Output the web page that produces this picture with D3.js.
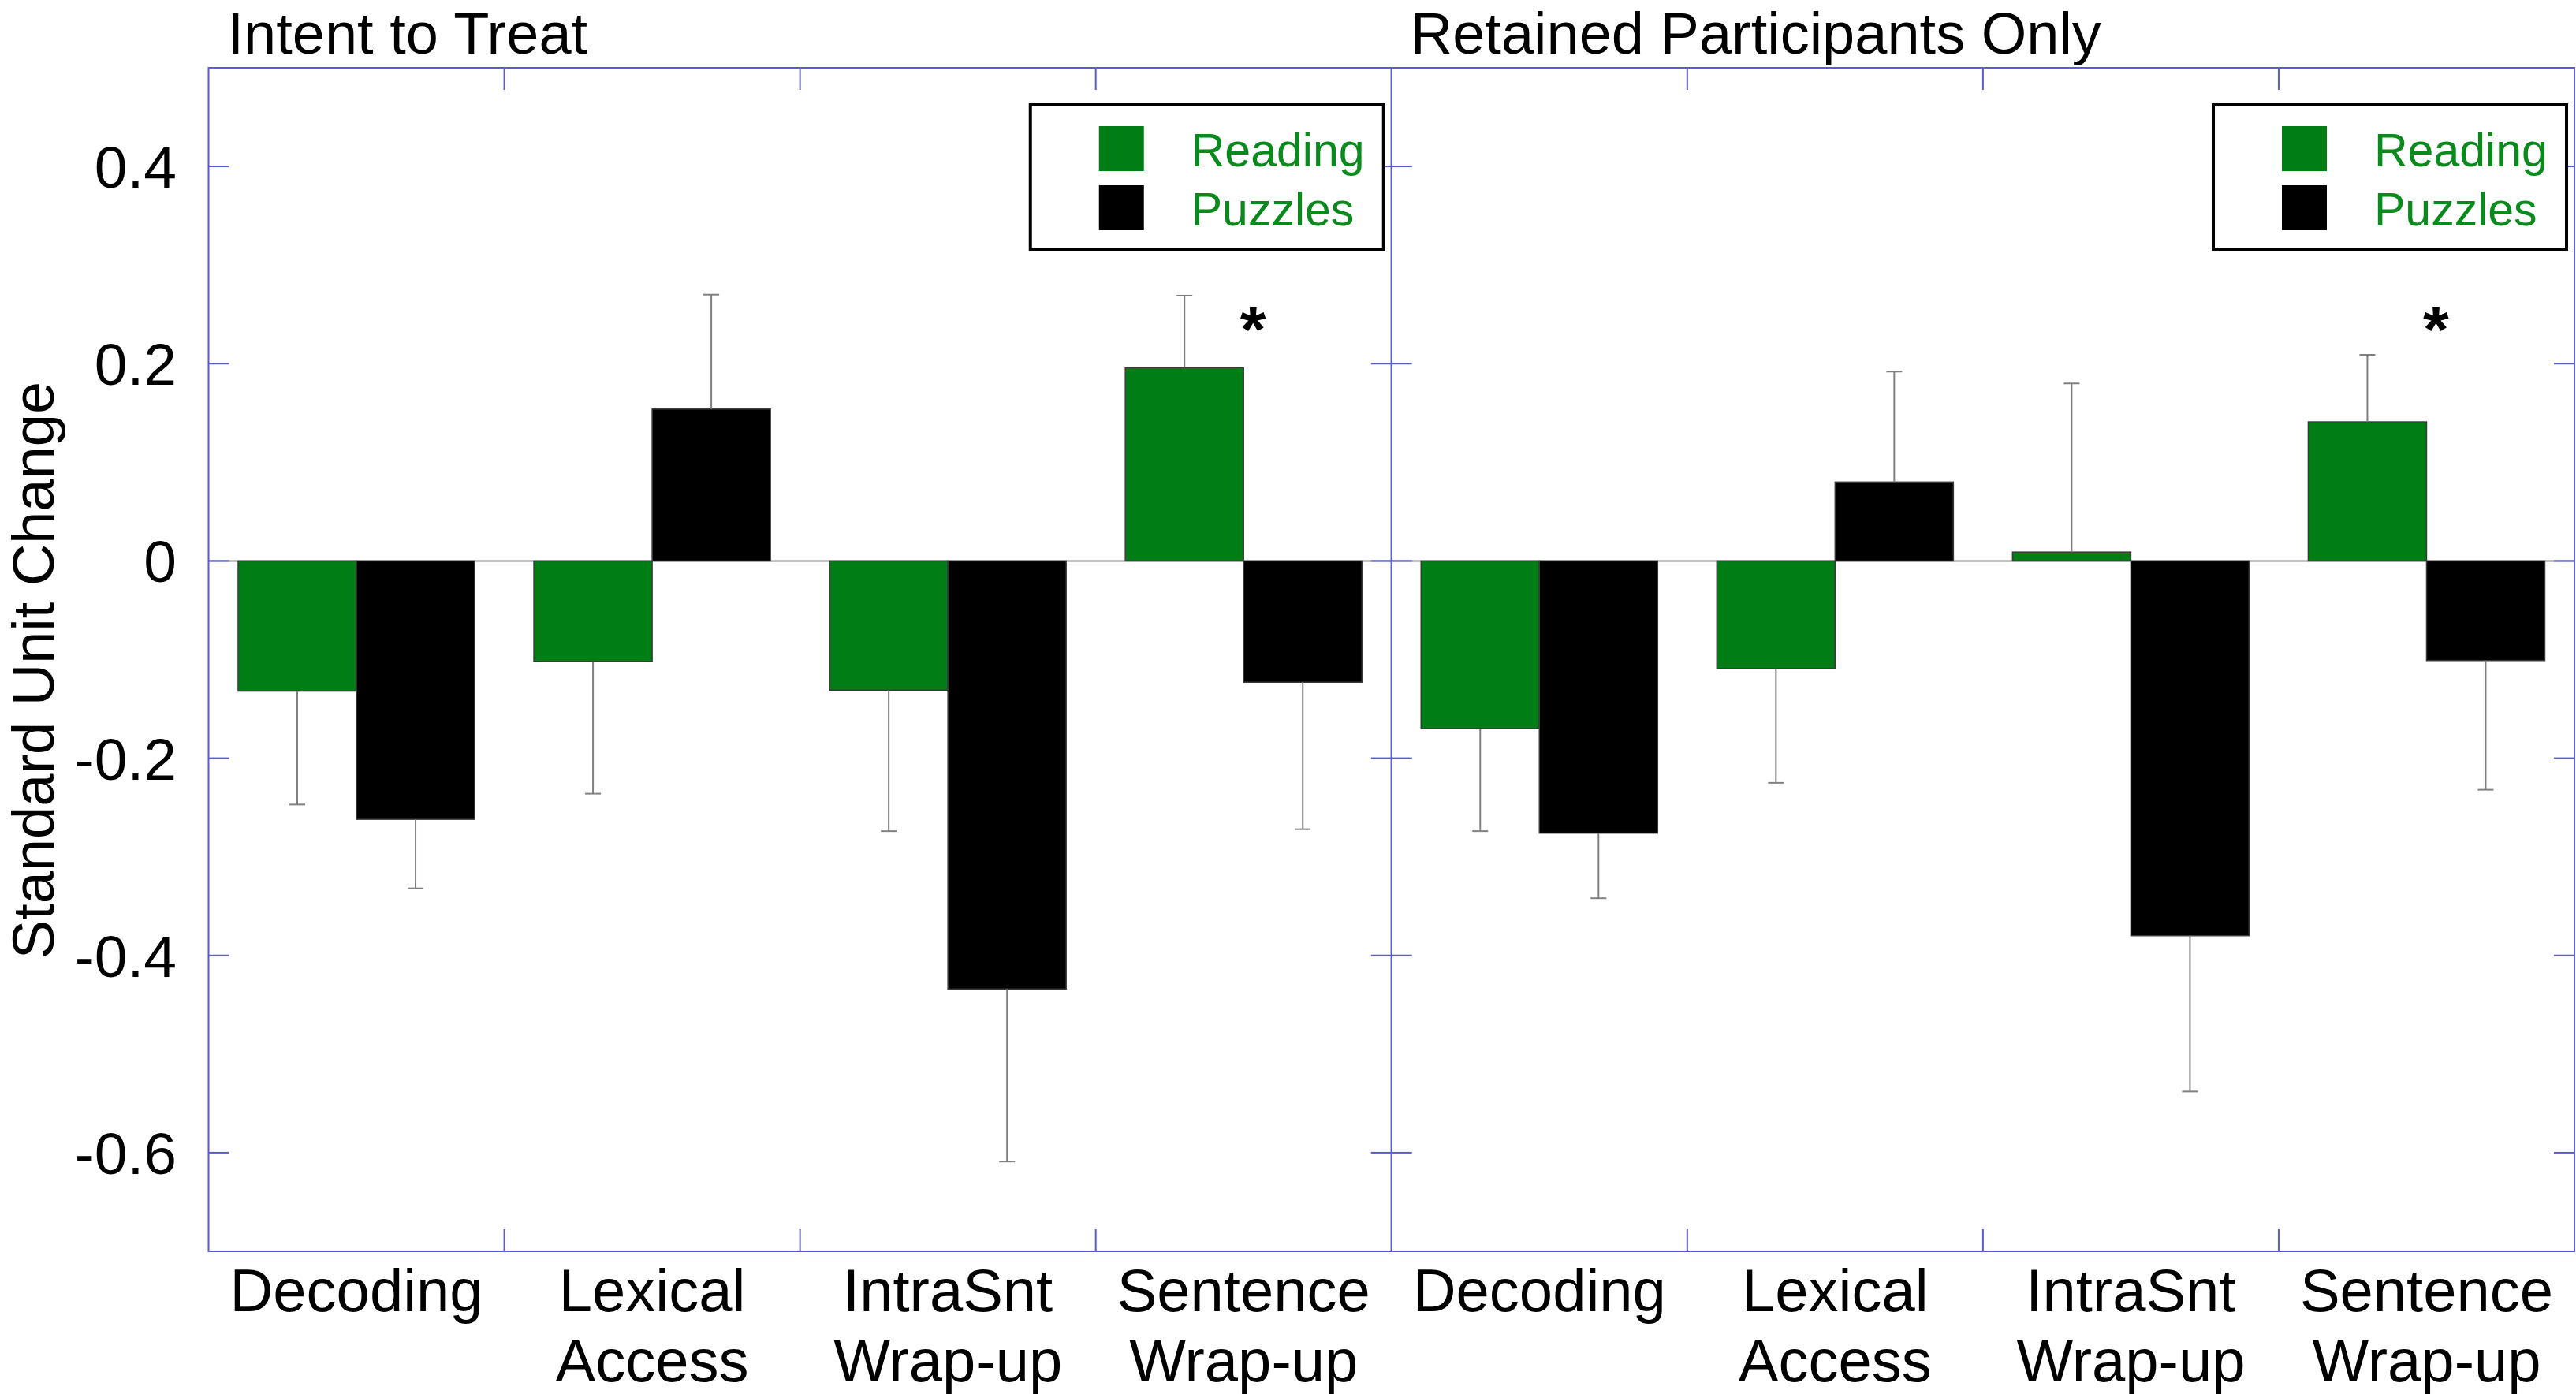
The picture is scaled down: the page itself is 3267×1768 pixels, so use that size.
<!DOCTYPE html>
<html><head><meta charset="utf-8">
<script src="https://cdn.jsdelivr.net/npm/d3@7"></script>
<style>body{margin:0;background:#fff}</style>
</head><body>
<svg id="chart" width="3267" height="1768"></svg>
<script>
// ---- data ----
const panelTitles = ["Intent to Treat", "Retained Participants Only"];
const categories = ["Decoding", "Lexical Access", "IntraSnt Wrap-up", "Sentence Wrap-up"];
const categoryLines = [["Decoding"], ["Lexical", "Access"], ["IntraSnt", "Wrap-up"], ["Sentence", "Wrap-up"]];
const series = ["Reading", "Puzzles"];
const ittReading     = [-0.132, -0.102, -0.131, 0.196];
const ittReadingErr  = [0.115, 0.134, 0.143, 0.073];
const ittPuzzles     = [-0.262, 0.154, -0.434, -0.123];
const ittPuzzlesErr  = [0.070, 0.116, 0.175, 0.149];
const retReading     = [-0.170, -0.109, 0.009, 0.141];
const retReadingErr  = [0.104, 0.116, 0.171, 0.068];
const retPuzzles     = [-0.276, 0.080, -0.380, -0.101];
const retPuzzlesErr  = [0.066, 0.112, 0.158, 0.131];
const significant    = [false, false, false, true];
const yTicks = [-0.6, -0.4, -0.2, 0, 0.2, 0.4];
const yTickLabels = ["-0.6", "-0.4", "-0.2", "0", "0.2", "0.4"];
const yLabel = "Standard Unit Change";

const panelData = [
  {values: [ittReading, ittPuzzles], errors: [ittReadingErr, ittPuzzlesErr]},
  {values: [retReading, retPuzzles], errors: [retReadingErr, retPuzzlesErr]}
];

// ---- layout / style ----
const colors = {Reading: "#007d14", Puzzles: "#000000"};
const axisColor = "#5b5bd0";
const font = "'Liberation Sans', Arial, Helvetica, sans-serif";
const plotTop = 86, plotBottom = 1587, plotLeft = 264.5, panelW = 1500.25;
const tickLen = 26;

const svg = d3.select("#chart").style("font-family", font);
const y = d3.scaleLinear().domain([-0.7, 0.5]).range([plotBottom, plotTop]);

panelTitles.forEach((title, pi) => {
  const x0 = plotLeft + pi * panelW, x1 = x0 + panelW;
  const x = d3.scaleBand().domain(categories).range([x0, x1]);
  const xs = d3.scaleBand().domain(series).range([0, x.bandwidth()]).paddingOuter(0.25);
  const g = svg.append("g");
  const pd = panelData[pi];

  // zero line
  g.append("line").attr("x1", x0).attr("x2", x1).attr("y1", y(0)).attr("y2", y(0))
    .attr("stroke", "#8a8a8a").attr("stroke-width", 2);

  // bars
  series.forEach((s, si) => {
    const vals = pd.values[si], errs = pd.errors[si];
    g.selectAll(null).data(categories).enter().append("rect")
      .attr("x", (c) => x(c) + xs(s))
      .attr("width", xs.bandwidth())
      .attr("y", (c, i) => y(Math.max(0, vals[i])))
      .attr("height", (c, i) => Math.abs(y(vals[i]) - y(0)))
      .attr("fill", colors[s])
      .attr("stroke", "#3a3a3a").attr("stroke-width", 1.5);
    // error bars (one-sided, away from zero)
    const eb = g.selectAll(null).data(categories).enter().append("g");
    eb.append("line")
      .attr("x1", (c) => x(c) + xs(s) + xs.bandwidth() / 2)
      .attr("x2", (c) => x(c) + xs(s) + xs.bandwidth() / 2)
      .attr("y1", (c, i) => y(vals[i]))
      .attr("y2", (c, i) => y(vals[i] + Math.sign(vals[i]) * errs[i]))
      .attr("stroke", "#808080").attr("stroke-width", 2);
    eb.append("line")
      .attr("x1", (c) => x(c) + xs(s) + xs.bandwidth() / 2 - 10)
      .attr("x2", (c) => x(c) + xs(s) + xs.bandwidth() / 2 + 10)
      .attr("y1", (c, i) => y(vals[i] + Math.sign(vals[i]) * errs[i]))
      .attr("y2", (c, i) => y(vals[i] + Math.sign(vals[i]) * errs[i]))
      .attr("stroke", "#808080").attr("stroke-width", 2);
  });

  // significance asterisks
  g.selectAll(null).data(categories.filter((c, i) => significant[i])).enter().append("text")
    .attr("x", (c) => x(c) + x.bandwidth() / 2 + 12)
    .attr("y", y(0.25) + 48)
    .attr("text-anchor", "middle")
    .attr("font-size", 84).attr("font-weight", "bold")
    .text("*");

  // frame
  g.append("rect").attr("x", x0).attr("y", plotTop).attr("width", panelW).attr("height", plotBottom - plotTop)
    .attr("fill", "none").attr("stroke", axisColor).attr("stroke-width", 2);

  // y ticks (inward both sides)
  yTicks.forEach((t) => {
    g.append("line").attr("x1", x0).attr("x2", x0 + tickLen).attr("y1", y(t)).attr("y2", y(t))
      .attr("stroke", axisColor).attr("stroke-width", 2);
    g.append("line").attr("x1", x1 - tickLen).attr("x2", x1).attr("y1", y(t)).attr("y2", y(t))
      .attr("stroke", axisColor).attr("stroke-width", 2);
  });

  // x ticks at band boundaries (top & bottom)
  categories.slice(1).forEach((c) => {
    const xx = x(c);
    g.append("line").attr("x1", xx).attr("x2", xx).attr("y1", plotTop).attr("y2", plotTop + tickLen + 2)
      .attr("stroke", axisColor).attr("stroke-width", 2);
    g.append("line").attr("x1", xx).attr("x2", xx).attr("y1", plotBottom - tickLen - 2).attr("y2", plotBottom)
      .attr("stroke", axisColor).attr("stroke-width", 2);
  });

  // category labels
  categories.forEach((c, ci) => {
    const t = g.append("text").attr("text-anchor", "middle").attr("font-size", 76)
      .attr("x", x(c) + x.bandwidth() / 2).attr("y", 1663);
    categoryLines[ci].forEach((ln, li) => {
      t.append("tspan").attr("x", x(c) + x.bandwidth() / 2).attr("dy", li === 0 ? 0 : 89).text(ln);
    });
  });

  // title
  g.append("text").attr("x", x0 + 24).attr("y", 68).attr("font-size", 74).text(title);

  // legend
  const lw = 448, lh = 183;
  const lx = x1 - 10 - lw, ly = 133;
  const lg = g.append("g").attr("transform", `translate(${lx},${ly})`);
  lg.append("rect").attr("width", lw).attr("height", lh).attr("fill", "#fff")
    .attr("stroke", "#000").attr("stroke-width", 4);
  series.forEach((s, si) => {
    lg.append("rect").attr("x", 87).attr("y", 27 + si * 75).attr("width", 57).attr("height", 57)
      .attr("fill", colors[s]);
    lg.append("text").attr("x", 204).attr("y", 78 + si * 75).attr("font-size", 59)
      .attr("fill", "#0a8a1c").text(s);
  });
});

// y tick labels (left panel only)
svg.selectAll(null).data(yTicks).enter().append("text")
  .attr("x", 224).attr("y", (d) => y(d))
  .attr("dy", "0.36em").attr("text-anchor", "end").attr("font-size", 75)
  .text((d, i) => yTickLabels[i]);

// y axis label
svg.append("text").attr("transform", "translate(68,850) rotate(-90)")
  .attr("text-anchor", "middle").attr("font-size", 74).text(yLabel);
</script>
</body></html>
